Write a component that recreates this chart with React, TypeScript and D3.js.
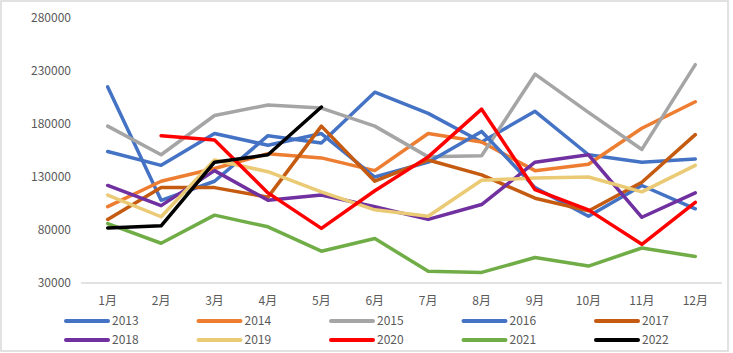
import React from "react";
import * as d3 from "d3";

const months = ["1月", "2月", "3月", "4月", "5月", "6月", "7月", "8月", "9月", "10月", "11月", "12月"];
const yTicks = [30000, 80000, 130000, 180000, 230000, 280000];

const years = ["2013", "2014", "2015", "2016", "2017", "2018", "2019", "2020", "2021", "2022"];
const colors = ["#4472C4", "#ED7D31", "#A5A5A5", "#4472C4", "#C55A11", "#7030A0", "#EACA74", "#FF0000", "#70AD47", "#000000"];

const v2013 = [215000, 108000, 126000, 169000, 162000, 210000, 190000, 163000, 192000, 151000, 144000, 147000];
const v2014 = [102000, 126000, 138000, 152000, 148000, 136000, 171000, 163000, 136000, 142000, 176000, 201000];
const v2015 = [178000, 151000, 188000, 198000, 195000, 178000, 149000, 150000, 227000, 191000, 156000, 236000];
const v2016 = [154000, 141000, 171000, 160000, 171000, 130000, 144000, 173000, 120000, 93000, 122000, 100000];
const v2017 = [90000, 120000, 120000, 111000, 178000, 126000, 146000, 132000, 110000, 98000, 125000, 170000];
const v2018 = [122000, 103000, 136000, 108000, 113000, 102000, 90000, 104000, 144000, 151000, 92000, 115000];
const v2019 = [113000, 92500, 146000, 135000, 116000, 99000, 93000, 127000, 129000, 130000, 116000, 141000];
const v2020 = [null, 169000, 165000, 115000, 81500, 117000, 149000, 194000, 118000, 99000, 66500, 106000];
const v2021 = [86000, 67500, 94000, 83000, 60000, 72000, 41000, 40000, 54000, 46000, 63000, 55000];
const v2022 = [82000, 84000, 144000, 151000, 196000, null, null, null, null, null, null, null];

const series = [v2013, v2014, v2015, v2016, v2017, v2018, v2019, v2020, v2021, v2022];

const W = 733;
const H = 353;
const font = "'Noto Sans CJK SC', 'Noto Sans', sans-serif";

export default function App() {
  const x = d3.scaleBand<string>().domain(months).range([81, 722]);
  const y = d3.scaleLinear().domain([30000, 280000]).range([283, 18]);
  const cx = (m: string) => (x(m) as number) + x.bandwidth() / 2;

  const line = d3
    .line<number | null>()
    .defined((d) => d != null)
    .x((_, i) => cx(months[i]))
    .y((d) => y(d as number));

  const legendX = [66, 198.5, 331, 463.5, 596];
  const legendY = [321, 340];

  return (
    <svg
      width={W}
      height={H}
      style={{ position: "absolute", left: 0, top: 0, background: "#fff" }}
      fontFamily={font}
    >
      <rect x={1} y={1} width={727} height={350} fill="#fff" stroke="#D9D9D9" strokeWidth={1.5} />

      {yTicks.map((t) => (
        <text key={t} x={71} y={y(t)} dy="0.35em" textAnchor="end" fontSize={12} fill="#595959">
          {t}
        </text>
      ))}

      <line x1={81} x2={722} y1={283} y2={283} stroke="#D9D9D9" strokeWidth={1.5} />

      {months.map((m) => (
        <text key={m} x={cx(m)} y={301} dy="0.35em" textAnchor="middle" fontSize={12} fill="#595959">
          {m}
        </text>
      ))}

      {series.map((s, i) => (
        <path
          key={years[i]}
          d={line(s) || ""}
          fill="none"
          stroke={colors[i]}
          strokeWidth={3.5}
          strokeLinejoin="round"
          strokeLinecap="round"
        />
      ))}

      {years.map((yr, i) => {
        const lx = legendX[i % 5];
        const ly = legendY[Math.floor(i / 5)];
        return (
          <g key={yr}>
            <line x1={lx} x2={lx + 42} y1={ly} y2={ly} stroke={colors[i]} strokeWidth={4} strokeLinecap="round" />
            <text x={lx + 46} y={ly} dy="0.35em" fontSize={12} fill="#595959">
              {yr}
            </text>
          </g>
        );
      })}
    </svg>
  );
}
